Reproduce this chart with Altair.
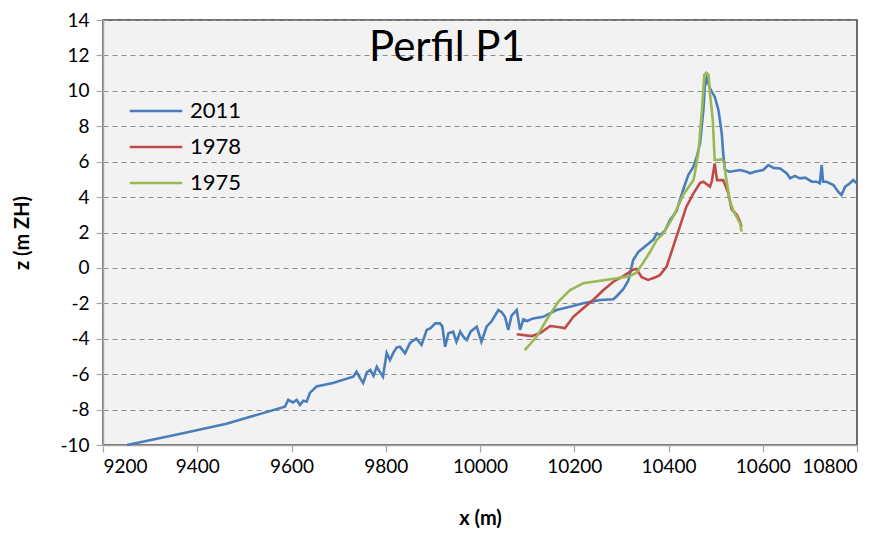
import altair as alt
import pandas as pd

# ---- data ----
x_2011 = [9251, 9350, 9462, 9586, 9593, 9603, 9611, 9618, 9625, 9632, 9639, 9653, 9688, 9731, 9738, 9745,
          9752, 9760, 9767, 9774, 9781, 9788, 9794, 9802, 9809, 9816, 9823, 9830, 9841, 9851, 9858, 9865,
          9876, 9887, 9895, 9905, 9915, 9920, 9926, 9933, 9943, 9950, 9958, 9965, 9972, 9980, 9993, 10003,
          10014, 10025, 10039, 10046, 10053, 10060, 10067, 10078, 10085, 10092, 10100, 10113, 10134, 10162,
          10191, 10219, 10255, 10283, 10290, 10304, 10315, 10325, 10336, 10354, 10368, 10375, 10383, 10393,
          10403, 10417, 10431, 10442, 10453, 10460, 10467, 10474, 10477, 10481, 10488, 10498, 10506, 10513,
          10516, 10520, 10530, 10552, 10566, 10573, 10585, 10601, 10612, 10623, 10637, 10651, 10658, 10668,
          10679, 10690, 10704, 10714, 10721, 10725, 10728, 10735, 10750, 10760, 10767, 10775, 10785, 10792,
          10799]
z_2011 = [-10.0, -9.45, -8.8, -7.84, -7.45, -7.6, -7.45, -7.74, -7.5, -7.55, -7.06, -6.7, -6.5, -6.14, -5.86, -6.2,
          -6.5, -5.9, -5.76, -6.1, -5.58, -5.9, -6.14, -4.8, -5.2, -4.8, -4.5, -4.45, -4.82, -4.26, -4.1, -4.0,
          -4.35, -3.5, -3.4, -3.13, -3.13, -3.3, -4.45, -3.69, -3.6, -4.17, -3.6, -3.9, -4.07, -3.6, -3.32, -4.17,
          -3.32, -3.0, -2.38, -2.5, -2.76, -3.5, -2.7, -2.38, -3.5, -2.9, -3.0, -2.85, -2.76, -2.38,
          -2.19, -2.0, -1.81, -1.77, -1.6, -1.2, -0.7, 0.45, 0.9, 1.29, 1.6, 1.95, 1.85, 2.14,
          2.7, 3.2, 4.4, 5.25, 5.72, 6.28, 7.04, 8.92, 10.23, 10.7, 10.14, 9.67, 8.92, 7.6,
          6.47, 5.53, 5.43, 5.53, 5.43, 5.34, 5.45, 5.53, 5.81, 5.65, 5.62, 5.34, 5.06, 5.2,
          5.06, 5.1, 4.87, 4.87, 4.78, 5.81, 4.87, 4.87, 4.68, 4.3, 4.12, 4.59, 4.78, 4.96,
          4.8]

x_1978 = [10078, 10110, 10127, 10149, 10170, 10180, 10198, 10219, 10240, 10262, 10283, 10304, 10325, 10332,
          10343, 10357, 10375, 10382, 10396, 10410, 10424, 10438, 10453, 10467, 10474, 10488, 10492, 10498,
          10503, 10516, 10527, 10534, 10545, 10552, 10555]
z_1978 = [-3.75, -3.85, -3.69, -3.28, -3.35, -3.41, -2.76, -2.28, -1.81, -1.25, -0.78, -0.46, -0.1, -0.06,
          -0.53, -0.68, -0.5, -0.4, 0.07, 1.2, 2.33, 3.46, 4.21, 4.8, 4.87, 4.59, 4.9, 5.9,
          4.96, 4.96, 4.21, 3.3, 3.0, 2.6, 2.33]

x_1975 = [10095, 10120, 10141, 10166, 10191, 10219, 10255, 10290, 10318, 10332, 10343, 10361, 10375, 10389,
          10410, 10431, 10453, 10456, 10464, 10471, 10476, 10480, 10485, 10488, 10494, 10498, 10506, 10513,
          10518, 10523, 10530, 10537, 10552, 10555]
z_1975 = [-4.64, -3.89, -2.94, -1.91, -1.25, -0.87, -0.72, -0.59, -0.46, -0.27, 0.16, 0.91, 1.58, 1.95,
          2.89, 4.12, 4.96, 5.34, 6.66, 8.92, 10.9, 11.02, 10.9, 9.86, 8.35, 6.09, 6.09, 6.15,
          5.9, 4.96, 3.83, 3.27, 2.52, 2.05]

series_names = ["2011", "1978", "1975"]
series_colors = ["#4A7EBB", "#BE4B48", "#98B954"]
x_ticks = [9200, 9400, 9600, 9800, 10000, 10200, 10400, 10600, 10800]
y_ticks = [-10, -8, -6, -4, -2, 0, 2, 4, 6, 8, 10, 12, 14]
title_text = ["Perfil P1"]

rows = []
for name, xs, zs in zip(series_names, [x_2011, x_1978, x_1975], [z_2011, z_1978, z_1975]):
    for i, (xv, zv) in enumerate(zip(xs, zs)):
        rows.append({"serie": name, "x": xv, "z": zv, "i": i})
df = pd.DataFrame(rows)

FONT = "Lato"

lines = alt.Chart(df).mark_line(strokeWidth=2.6).encode(
    x=alt.X("x:Q", scale=alt.Scale(domain=[9200, 10800], nice=False),
            axis=alt.Axis(values=x_ticks, title="x (m)", grid=False, tickSize=7,
                          labelFontSize=19, titleFontSize=20, titleFontWeight="bold",
                          labelPadding=5, titlePadding=32,
                          labelExpr="toString(datum.value)")),
    y=alt.Y("z:Q", scale=alt.Scale(domain=[-10, 14], nice=False),
            axis=alt.Axis(values=y_ticks, title="z (m ZH)", grid=True, tickSize=7,
                          gridDash=[5, 4], gridColor="#8C8C8C", gridWidth=1.2,
                          labelFontSize=19, titleFontSize=20, titleFontWeight="bold",
                          labelPadding=7, titlePadding=27,
                          labelExpr="toString(datum.value)")),
    color=alt.Color("serie:N",
                    scale=alt.Scale(domain=series_names, range=series_colors),
                    sort=series_names,
                    legend=alt.Legend(title=None, orient="none", legendX=41, legendY=79,
                                      symbolType="M-2.5,0L2.5,0", symbolSize=441,
                                      symbolStrokeWidth=2.5,
                                      labelFontSize=22, labelFont=FONT, rowPadding=13,
                                      labelOffset=22, labelColor="#000000")),
    order=alt.Order("i:Q"),
    detail="serie:N",
)

title = alt.Chart(pd.DataFrame({"t": title_text})).mark_text(
    fontSize=42, font=FONT, align="center", baseline="alphabetic", color="#000000"
).encode(text="t:N", x=alt.value(344), y=alt.value(41))

chart = alt.layer(lines, title).properties(
    width=754, height=425,
    autosize=alt.AutoSizeParams(type="none"),
    padding={"left": 95, "top": 12, "right": 30, "bottom": 83},
    background="#FFFFFF",
).configure_view(
    fill="#F2F2F2", stroke="#404040", strokeWidth=1.5
).configure_axis(
    labelFont=FONT, titleFont=FONT, labelColor="#000000", titleColor="#000000",
    domainColor="#A6A6A6", domainWidth=1.5, tickColor="#A6A6A6", tickWidth=1.2
)

chart.save("out.html", embed_options={"renderer": "svg", "actions": False})
